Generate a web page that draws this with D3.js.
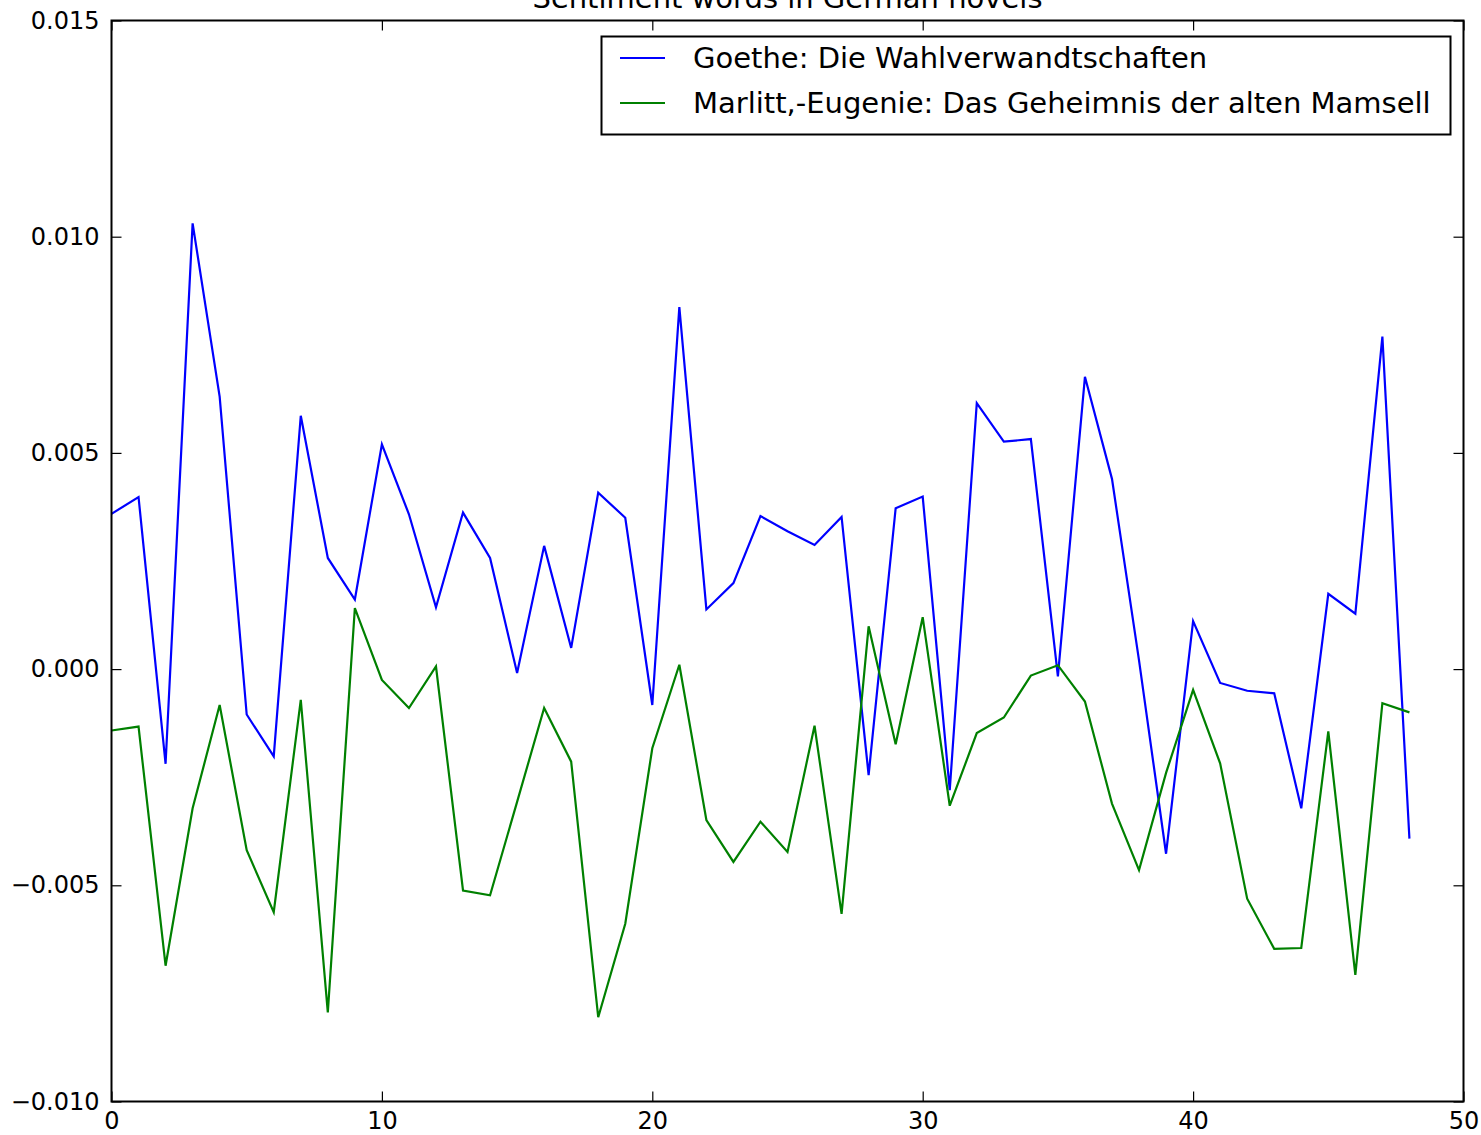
<!DOCTYPE html>
<html>
<head>
<meta charset="utf-8">
<script src="https://cdn.jsdelivr.net/npm/d3@7"></script>
<style>
  html, body { margin: 0; padding: 0; background: #fff; }
  svg text { font-family: "DejaVu Sans", sans-serif; fill: #000; }
</style>
</head>
<body>
<svg id="chart" width="1481" height="1135"></svg>
<script>
// Sentiment score per text segment for two German novels
const segments = d3.range(49);

const goethe = [
  0.00359, 0.00398, -0.00219, 0.01031, 0.00630, -0.00105, -0.00202, 0.00586, 0.00257, 0.00161,
  0.00520, 0.00358, 0.00143, 0.00362, 0.00257, -0.00009, 0.00285, 0.00049, 0.00408, 0.00350,
  -0.00083, 0.00837, 0.00138, 0.00199, 0.00354, 0.00319, 0.00287, 0.00352, -0.00245, 0.00372,
  0.00399, -0.00280, 0.00615, 0.00526, 0.00532, -0.00017, 0.00676, 0.00440, 0.00020, -0.00427,
  0.00111, -0.00032, -0.00050, -0.00056, -0.00322, 0.00174, 0.00128, 0.00769, -0.00392
];

const marlitt = [
  -0.00142, -0.00133, -0.00686, -0.00322, -0.00083, -0.00419, -0.00562, -0.00071, -0.00794, 0.00141,
  -0.00025, -0.00090, 0.00006, -0.00512, -0.00523, -0.00307, -0.00090, -0.00214, -0.00805, -0.00589,
  -0.00183, 0.00010, -0.00349, -0.00446, -0.00353, -0.00423, -0.00131, -0.00566, 0.00099, -0.00174,
  0.00120, -0.00316, -0.00148, -0.00112, -0.00015, 0.00009, -0.00075, -0.00311, -0.00465, -0.00240,
  -0.00048, -0.00218, -0.00531, -0.00647, -0.00645, -0.00144, -0.00707, -0.00079, -0.00100
];

const seriesNames = [
  "Goethe: Die Wahlverwandtschaften",
  "Marlitt,-Eugenie: Das Geheimnis der alten Mamsell"
];
const seriesColors = ["#0000ff", "#008000"];
const xTicks = [0, 10, 20, 30, 40, 50];
const yTicks = [-0.010, -0.005, 0.000, 0.005, 0.010, 0.015];
const chartTitle = "Sentiment words in German novels";

const svg = d3.select("#chart");
const margin = { left: 111.5, right: 1463.5, top: 20.5, bottom: 1101.5 };

const x = d3.scaleLinear().domain([0, 50]).range([margin.left, margin.right]);
const y = d3.scaleLinear().domain([-0.010, 0.015]).range([margin.bottom, margin.top]);

const fmtY = v => d3.format(".3f")(v).replace("-", "\u2212");
const tickLen = 10;

// inward ticks on all four sides
const axes = [
  { axis: d3.axisBottom(x).tickValues(xTicks).tickFormat(d3.format("d")), t: `translate(0,${margin.bottom})`, pad: 10 },
  { axis: d3.axisTop(x).tickValues(xTicks).tickFormat(""), t: `translate(0,${margin.top})`, pad: 10 },
  { axis: d3.axisLeft(y).tickValues(yTicks).tickFormat(fmtY), t: `translate(${margin.left},0)`, pad: 12 },
  { axis: d3.axisRight(y).tickValues(yTicks).tickFormat(""), t: `translate(${margin.right},0)`, pad: 10 }
];

axes.forEach(a => {
  const g = svg.append("g").attr("transform", a.t)
    .call(a.axis.tickSizeInner(-tickLen).tickSizeOuter(0).tickPadding(a.pad));
  g.select(".domain").remove();
  g.selectAll(".tick line").attr("stroke", "#000").attr("stroke-width", 1.2);
  g.selectAll(".tick text").style("font-size", "24px").attr("fill", "#000");
});

// plot lines
const line = d3.line().x((d, i) => x(segments[i])).y(d => y(d));
[goethe, marlitt].forEach((s, k) => {
  svg.append("path")
    .datum(s)
    .attr("d", line)
    .attr("fill", "none")
    .attr("stroke", seriesColors[k])
    .attr("stroke-width", 2.2)
    .attr("stroke-linejoin", "miter");
});

// frame
svg.append("rect")
  .attr("x", margin.left).attr("y", margin.top)
  .attr("width", margin.right - margin.left)
  .attr("height", margin.bottom - margin.top)
  .attr("fill", "none").attr("stroke", "#000").attr("stroke-width", 2);

// title, partly above the canvas
svg.append("text")
  .attr("x", (margin.left + margin.right) / 2).attr("y", 8)
  .attr("text-anchor", "middle")
  .style("font-size", "29px")
  .text(chartTitle);

// legend
const lg = svg.append("g");
lg.append("rect")
  .attr("x", 601.5).attr("y", 36.5).attr("width", 849).attr("height", 98)
  .attr("fill", "#fff").attr("stroke", "#000").attr("stroke-width", 2);
seriesNames.forEach((name, k) => {
  const yy = 58 + k * 45;
  lg.append("line")
    .attr("x1", 620).attr("x2", 665).attr("y1", yy).attr("y2", yy)
    .attr("stroke", seriesColors[k]).attr("stroke-width", 2.2);
  lg.append("text")
    .attr("x", 693).attr("y", yy).attr("dy", "0.35em")
    .style("font-size", "29px")
    .text(name);
});
</script>
</body>
</html>
